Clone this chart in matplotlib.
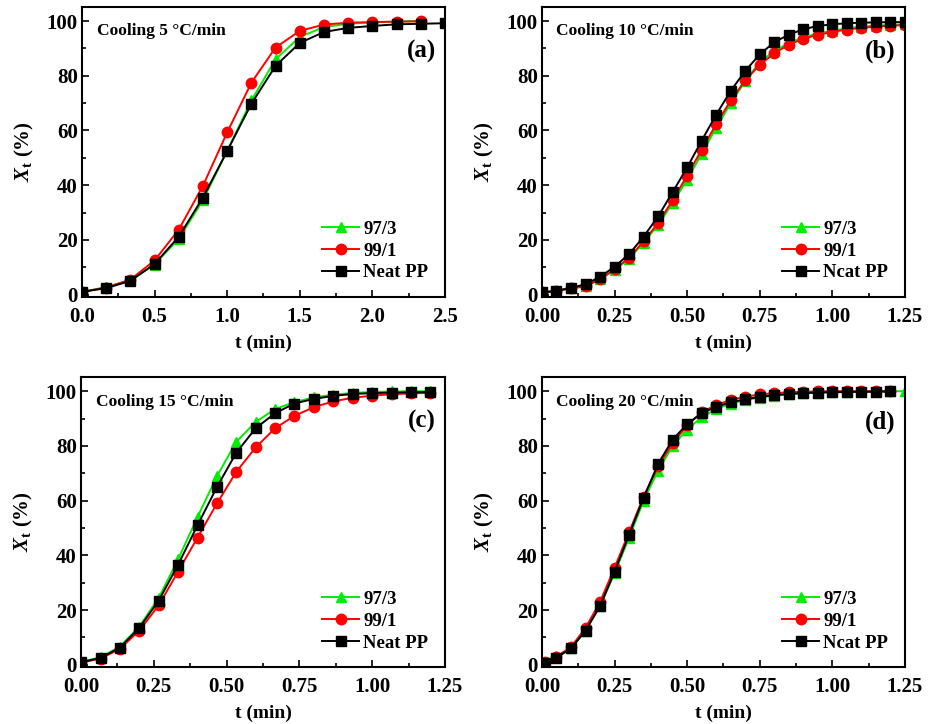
import matplotlib
matplotlib.use('Agg')
import matplotlib.pyplot as plt
from matplotlib.ticker import MultipleLocator

plt.rcParams['font.family'] = ['Liberation Serif', 'DejaVu Serif']
plt.rcParams['font.weight'] = 'bold'
plt.rcParams['mathtext.fontset'] = 'custom'
plt.rcParams['mathtext.it'] = 'Liberation Serif:italic:bold'
plt.rcParams['mathtext.rm'] = 'Liberation Serif:bold'
plt.rcParams['mathtext.bf'] = 'Liberation Serif:bold'

labels = ['97/3', '99/1', 'Neat PP']
labels_typo = ['97/3', '99/1', 'Ncat PP']

# (a) cooling 5 C/min
t_a = [0.0, 0.167, 0.333, 0.5, 0.667, 0.833, 1.0, 1.167, 1.333, 1.5,
       1.667, 1.833, 2.0, 2.167, 2.333, 2.5]
a_973 = [1.0, 2.8, 5.3, 11.0, 20.5, 34.5, 52.5, 71.0, 86.0, 94.2,
         97.8, 99.0, 99.5, 99.8, 100.0]
a_991 = [1.0, 2.6, 5.5, 12.5, 23.8, 39.8, 59.3, 77.5, 90.3, 96.4,
         98.7, 99.4, 99.6, 99.8, 99.9]
a_pp = [1.0, 2.4, 5.0, 11.2, 21.2, 35.5, 52.5, 69.8, 83.6, 92.0,
        96.0, 97.5, 98.2, 98.8, 99.0, 99.2]

# (b) cooling 10 C/min
t_b = [0.0, 0.05, 0.1, 0.15, 0.2, 0.25, 0.3, 0.35, 0.4, 0.45, 0.5, 0.55, 0.6,
       0.65, 0.7, 0.75, 0.8, 0.85, 0.9, 0.95, 1.0, 1.05, 1.1, 1.15, 1.2, 1.25]
b_973 = [0.8, 1.5, 2.5, 3.3, 5.8, 9.0, 13.2, 19.0, 25.5, 33.5, 42.0, 51.5, 61.0,
         70.0, 78.0, 85.0, 89.0, 92.0, 94.0, 95.5, 96.5, 97.3, 98.0, 98.3, 98.6, 98.8]
b_991 = [0.8, 1.3, 2.3, 3.0, 5.6, 9.2, 13.5, 19.5, 26.2, 34.5, 43.5, 53.0, 62.3,
         71.0, 78.3, 84.0, 88.2, 91.4, 93.5, 95.0, 96.0, 96.9, 97.5, 98.0, 98.3, 98.5]
b_pp = [0.8, 1.4, 2.5, 3.8, 6.5, 10.2, 14.8, 21.2, 28.6, 37.5, 46.5, 56.3, 65.8,
        74.5, 81.8, 87.8, 92.3, 95.0, 97.0, 98.2, 98.8, 99.2, 99.4, 99.5, 99.6, 99.6]

# (c) cooling 15 C/min
t_c = [0.0, 0.067, 0.133, 0.2, 0.267, 0.333, 0.4, 0.467, 0.533, 0.6,
       0.667, 0.733, 0.8, 0.867, 0.933, 1.0, 1.067, 1.133, 1.2]
c_973 = [1.0, 2.8, 6.6, 14.0, 24.5, 38.5, 54.0, 69.0, 81.5, 88.8,
         93.5, 96.0, 97.8, 98.7, 99.4, 99.7, 99.9, 100.0, 100.0]
c_991 = [0.8, 2.3, 5.8, 12.5, 21.8, 34.0, 46.5, 59.0, 70.5, 79.5,
         86.5, 91.0, 94.2, 96.3, 97.6, 98.4, 98.9, 99.2, 99.4]
c_pp = [1.0, 2.5, 6.3, 13.5, 23.5, 36.5, 51.0, 65.0, 77.5, 86.5,
        92.0, 95.5, 97.2, 98.3, 99.0, 99.3, 99.5, 99.6, 99.7]

# (d) cooling 20 C/min
t_d = [0.01, 0.05, 0.1, 0.15, 0.2, 0.25, 0.3, 0.35, 0.4, 0.45, 0.5, 0.55, 0.6,
       0.65, 0.7, 0.75, 0.8, 0.85, 0.9, 0.95, 1.0, 1.05, 1.1, 1.15, 1.2, 1.25]
d_973 = [1.2, 3.2, 6.0, 12.5, 21.5, 33.5, 46.5, 60.0, 71.0, 80.0, 86.0, 90.5, 93.5,
         95.5, 96.8, 97.7, 98.4, 98.9, 99.3, 99.5, 99.7, 99.8, 99.9, 99.9, 100.0, 100.0]
d_991 = [1.0, 3.0, 6.5, 13.5, 23.0, 35.5, 48.5, 61.5, 72.5, 81.0, 87.5, 92.3, 95.0,
         96.8, 98.0, 98.8, 99.3, 99.6, 99.8, 99.9, 100.0, 100.0, 100.0, 100.0, 100.0]
d_pp = [0.8, 2.6, 6.0, 12.5, 21.5, 34.0, 47.5, 61.0, 73.5, 82.3, 88.0, 92.0, 94.3,
        96.0, 97.0, 98.0, 98.5, 99.0, 99.3, 99.5, 99.6, 99.7, 99.8, 99.8, 99.9]

panels = [
    ('Cooling 5 \u00b0C/min', '(a)', t_a, [a_973, a_991, a_pp], 2.5, 0.5, 0.25, '%.1f', labels),
    ('Cooling 10 \u00b0C/min', '(b)', t_b, [b_973, b_991, b_pp], 1.25, 0.25, 0.125, '%.2f', labels_typo),
    ('Cooling 15 \u00b0C/min', '(c)', t_c, [c_973, c_991, c_pp], 1.25, 0.25, 0.125, '%.2f', labels),
    ('Cooling 20 \u00b0C/min', '(d)', t_d, [d_973, d_991, d_pp], 1.25, 0.25, 0.125, '%.2f', labels_typo),
]

colors = ['#00ee00', '#ff0000', '#000000']
markers = ['^', 'o', 's']
msizes = [7, 7.5, 6.5]

fig = plt.figure(figsize=(9.38, 7.24), dpi=100)
positions = [[0.0874, 0.590, 0.387, 0.4006],
             [0.5778, 0.590, 0.387, 0.4006],
             [0.0864, 0.0787, 0.388, 0.4006],
             [0.5778, 0.0787, 0.387, 0.4006]]

for pos, (title, tag, t, series, xmax, xmaj, xmin, fmt, labs) in zip(positions, panels):
    ax = fig.add_axes(pos)
    for y, c, m, ms, lab in zip(series, colors, markers, msizes, labs):
        ax.plot(t[:len(y)], y, color=c, marker=m, markersize=ms, lw=1.4, label=lab)
    ax.set_xlim(0, xmax)
    ax.set_ylim(-0.8, 105.2)
    ax.xaxis.set_major_locator(MultipleLocator(xmaj))
    ax.xaxis.set_minor_locator(MultipleLocator(xmin))
    ax.xaxis.set_major_formatter(plt.FormatStrFormatter(fmt))
    ax.yaxis.set_major_locator(MultipleLocator(20))
    ax.yaxis.set_minor_locator(MultipleLocator(10))
    ax.tick_params(which='both', direction='in', labelsize=15, width=1.2)
    ax.tick_params(which='major', length=5)
    ax.tick_params(which='minor', length=3)
    ax.tick_params(axis='x', pad=7)
    ax.tick_params(axis='y', pad=3)
    for sp in ax.spines.values():
        sp.set_linewidth(1.5)
    ax.set_xlabel('t (min)', fontsize=14, fontweight='bold', labelpad=6)
    ax.set_ylabel(r'$X_{\mathbf{t}}$ (%)', fontsize=15, fontweight='bold', labelpad=8)
    ax.text(0.04, 0.915, title, transform=ax.transAxes, fontsize=12.5,
            fontweight='bold', va='center', ha='left')
    ax.text(0.975, 0.845, tag, transform=ax.transAxes, fontsize=18,
            fontweight='bold', va='center', ha='right')
    ax.legend(loc='lower right', bbox_to_anchor=(1.0, -0.005), frameon=False,
              fontsize=13.5, handlelength=2.0, handletextpad=0.2, labelspacing=0.25)

fig.savefig('out.png', dpi=100)
